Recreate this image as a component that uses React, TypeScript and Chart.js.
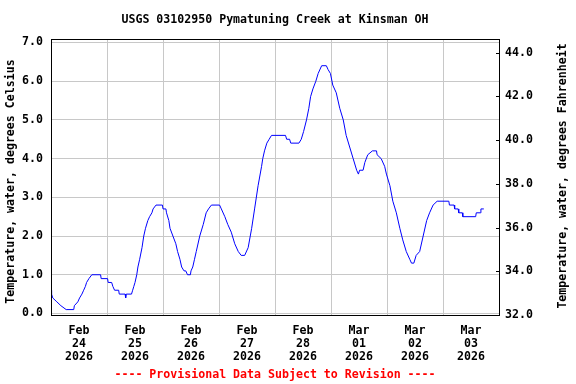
import React, { useEffect, useRef } from "react";
import { Chart, registerables } from "chart.js";

Chart.register(...registerables);

const TITLE = "USGS 03102950 Pymatuning Creek at Kinsman OH";
const LEFT_TITLE = "Temperature, water, degrees Celsius";
const RIGHT_TITLE = "Temperature, water, degrees Fahrenheit";
const FOOTNOTE = "---- Provisional Data Subject to Revision ----";

// x-axis day labels (one per day, Feb 24 .. Mar 03 2026)
const dayMonths = ["Feb", "Feb", "Feb", "Feb", "Feb", "Mar", "Mar", "Mar"];
const dayNumbers = ["24", "25", "26", "27", "28", "01", "02", "03"];
const dayYear = "2026";

// y tick values
const celsiusTicks = [0, 1, 2, 3, 4, 5, 6, 7];
const fahrenheitTicks = [32, 34, 36, 38, 40, 42, 44];

// hours since 2026-02-24 00:00
const hours = [
  0, 0.25, 0.75, 2.5, 4.25, 6.5, 9.75, 10, 11.5, 12.25, 13.25, 14, 14.75, 15.25, 16.25, 17.5, 21.25, 21.5,
  24.25, 24.5, 26, 26.5, 27.25, 29, 29.25, 31.75, 32, 32.25, 34.5, 35, 35.5, 36, 36.75, 37.25, 38, 39, 39.75, 40.5, 41.5, 42.25, 43.25, 43.75, 45, 47.75,
  48, 49.25, 49.5, 50.5, 51, 52.25, 53.5, 54.25, 55.25, 56, 57, 57.75, 58.5, 59.75, 60, 60.75, 61.5, 62.25, 63.75, 65.25, 66.5, 67.5, 68.75,
  72.25, 73, 74.5, 75.75, 77.25, 78.75, 80.25, 81.5, 83, 84.5, 86, 87.25, 88.75, 90.25, 90.75, 91.5, 92.5, 93.5, 94.5,
  100.5, 101, 102.25, 102.75, 106.25, 107.25, 108.25, 109.5, 110.5, 111.25, 112.25, 113.5, 114.5, 116, 118, 118.75, 119.75,
  120.75, 122.25, 123.75, 125.25, 126.5, 128, 129.5, 131, 131.75, 132.25, 133.75, 134.5, 135.75, 137.75, 139.5, 139.75, 141.5, 143, 143.75,
  145.25, 146.5, 148, 149.5, 150.75, 152.25, 153.75, 154.5, 155.5, 156.5, 158, 159.5, 161, 162.25, 163.75, 165.5,
  170.5, 170.75, 172.75, 173, 174.5, 174.75, 176.25, 176.5, 182, 182.25, 184, 184.25, 185.5,
];

// water temperature, degrees Celsius
const tempC = [
  0.6, 0.5, 0.4, 0.3, 0.2, 0.1, 0.1, 0.2, 0.3, 0.4, 0.5, 0.6, 0.7, 0.8, 0.9, 1.0, 1.0, 0.9,
  0.9, 0.8, 0.8, 0.7, 0.6, 0.6, 0.5, 0.5, 0.4, 0.5, 0.5, 0.6, 0.7, 0.8, 1.0, 1.2, 1.4, 1.7, 2.0, 2.2, 2.4, 2.5, 2.6, 2.7, 2.8, 2.8,
  2.7, 2.7, 2.6, 2.4, 2.2, 2.0, 1.8, 1.6, 1.4, 1.2, 1.1, 1.1, 1.0, 1.0, 1.1, 1.2, 1.4, 1.6, 2.0, 2.3, 2.6, 2.7, 2.8,
  2.8, 2.7, 2.5, 2.3, 2.1, 1.8, 1.6, 1.5, 1.5, 1.7, 2.2, 2.7, 3.3, 3.8, 4.0, 4.2, 4.4, 4.5, 4.6,
  4.6, 4.5, 4.5, 4.4, 4.4, 4.5, 4.7, 5.0, 5.3, 5.6, 5.8, 6.0, 6.2, 6.4, 6.4, 6.3, 6.2,
  5.9, 5.7, 5.3, 5.0, 4.6, 4.3, 4.0, 3.7, 3.6, 3.7, 3.7, 3.9, 4.1, 4.2, 4.2, 4.1, 4.0, 3.8, 3.6,
  3.3, 2.9, 2.6, 2.2, 1.9, 1.6, 1.4, 1.3, 1.3, 1.5, 1.6, 2.0, 2.4, 2.6, 2.8, 2.9,
  2.9, 2.8, 2.8, 2.7, 2.7, 2.6, 2.6, 2.5, 2.5, 2.6, 2.6, 2.7, 2.7,
];

const FONT_FAMILY = '"DejaVu Sans Mono", monospace';
const FONT_SIZE = 11.6;
const CSS_FONT = `bold ${FONT_SIZE}px ${FONT_FAMILY}`;
const GRID = "#c8c8c8";

const decorPlugin = {
  id: "decor",
  afterDraw(chart: any) {
    const { ctx, chartArea: a } = chart;
    ctx.save();
    ctx.strokeStyle = "#000";
    ctx.lineWidth = 1;
    ctx.strokeRect(a.left + 0.5, a.top + 0.5, a.right - a.left, a.bottom - a.top);
    const yF = chart.scales.yF;
    yF.ticks.forEach((t: any) => {
      const y = Math.round(yF.getPixelForValue(t.value)) + 0.5;
      ctx.beginPath();
      ctx.moveTo(a.right - 3, y);
      ctx.lineTo(a.right, y);
      ctx.stroke();
    });
    ctx.font = CSS_FONT;
    ctx.textAlign = "center";
    ctx.textBaseline = "middle";
    ctx.fillStyle = "#000";
    const cx = (a.left + a.right) / 2;
    ctx.fillText(TITLE, cx, 20);
    ctx.save();
    ctx.translate(11, 181.5);
    ctx.rotate(-Math.PI / 2);
    ctx.fillText(LEFT_TITLE, 0, 0);
    ctx.restore();
    ctx.save();
    ctx.translate(563, 176);
    ctx.rotate(-Math.PI / 2);
    ctx.fillText(RIGHT_TITLE, 0, 0);
    ctx.restore();
    ctx.fillStyle = "#ff0000";
    ctx.fillText(FOOTNOTE, cx, 375);
    ctx.restore();
  },
};

export default function App() {
  const ref = useRef<HTMLCanvasElement | null>(null);

  useEffect(() => {
    if (!ref.current) return;
    const points = hours.map((h, i) => ({ x: h, y: tempC[i] }));
    const tickFont = { family: FONT_FAMILY, size: FONT_SIZE, weight: "bold" as const, lineHeight: 13 / FONT_SIZE };
    const chart = new Chart(ref.current, {
      type: "line",
      data: {
        datasets: [
          {
            data: points,
            borderColor: "#0000ff",
            borderWidth: 1,
            pointRadius: 0,
            fill: false,
            tension: 0,
            xAxisID: "x",
            yAxisID: "y",
          },
        ],
      },
      options: {
        animation: false,
        responsive: false,
        devicePixelRatio: 1,
        layout: { padding: { top: 39, left: 0, right: 0, bottom: 0 } },
        plugins: { legend: { display: false }, tooltip: { enabled: false }, title: { display: false } },
        scales: {
          x: {
            type: "linear",
            position: "bottom",
            min: 0,
            max: 192,
            afterBuildTicks: (s: any) => {
              s.ticks = Array.from({ length: 17 }, (_, i) => ({ value: i * 12 }));
            },
            afterFit: (s: any) => {
              s.height = 69;
            },
            grid: {
              color: (c: any) => (c.tick && c.tick.value % 24 === 0 ? GRID : "rgba(0,0,0,0)"),
              drawTicks: false,
            },
            border: { display: true, color: "#000" },
            ticks: {
              autoSkip: false,
              maxRotation: 0,
              minRotation: 0,
              padding: 9,
              color: "#000",
              font: tickFont,
              callback: (v: any) => {
                const n = Number(v);
                if (n % 24 !== 12) return "";
                const i = (n - 12) / 24;
                return [dayMonths[i], dayNumbers[i], dayYear];
              },
            },
          },
          y: {
            type: "linear",
            position: "left",
            min: -0.04,
            max: 7.09,
            afterBuildTicks: (s: any) => {
              s.ticks = celsiusTicks.map((v) => ({ value: v }));
            },
            afterFit: (s: any) => {
              s.width = 51;
            },
            grid: { color: GRID, drawTicks: false },
            border: { display: true, color: "#000" },
            ticks: {
              padding: 8,
              color: "#000",
              font: tickFont,
              callback: (v: any) => Number(v).toFixed(1),
            },
          },
          yF: {
            type: "linear",
            position: "right",
            min: 32,
            max: 44.62,
            afterBuildTicks: (s: any) => {
              s.ticks = fahrenheitTicks.map((v) => ({ value: v }));
            },
            afterFit: (s: any) => {
              s.width = 77;
            },
            grid: { drawOnChartArea: false, drawTicks: false },
            border: { display: true, color: "#000" },
            ticks: {
              padding: 6,
              color: "#000",
              font: tickFont,
              callback: (v: any) => Number(v).toFixed(1),
            },
          },
        },
      },
      plugins: [decorPlugin],
    });
    return () => chart.destroy();
  }, []);

  return (
    <div style={{ position: "fixed", left: 0, top: 0, width: 576, height: 384, background: "#fff" }}>
      <canvas ref={ref} width={576} height={384} style={{ display: "block", width: 576, height: 384 }} />
    </div>
  );
}
